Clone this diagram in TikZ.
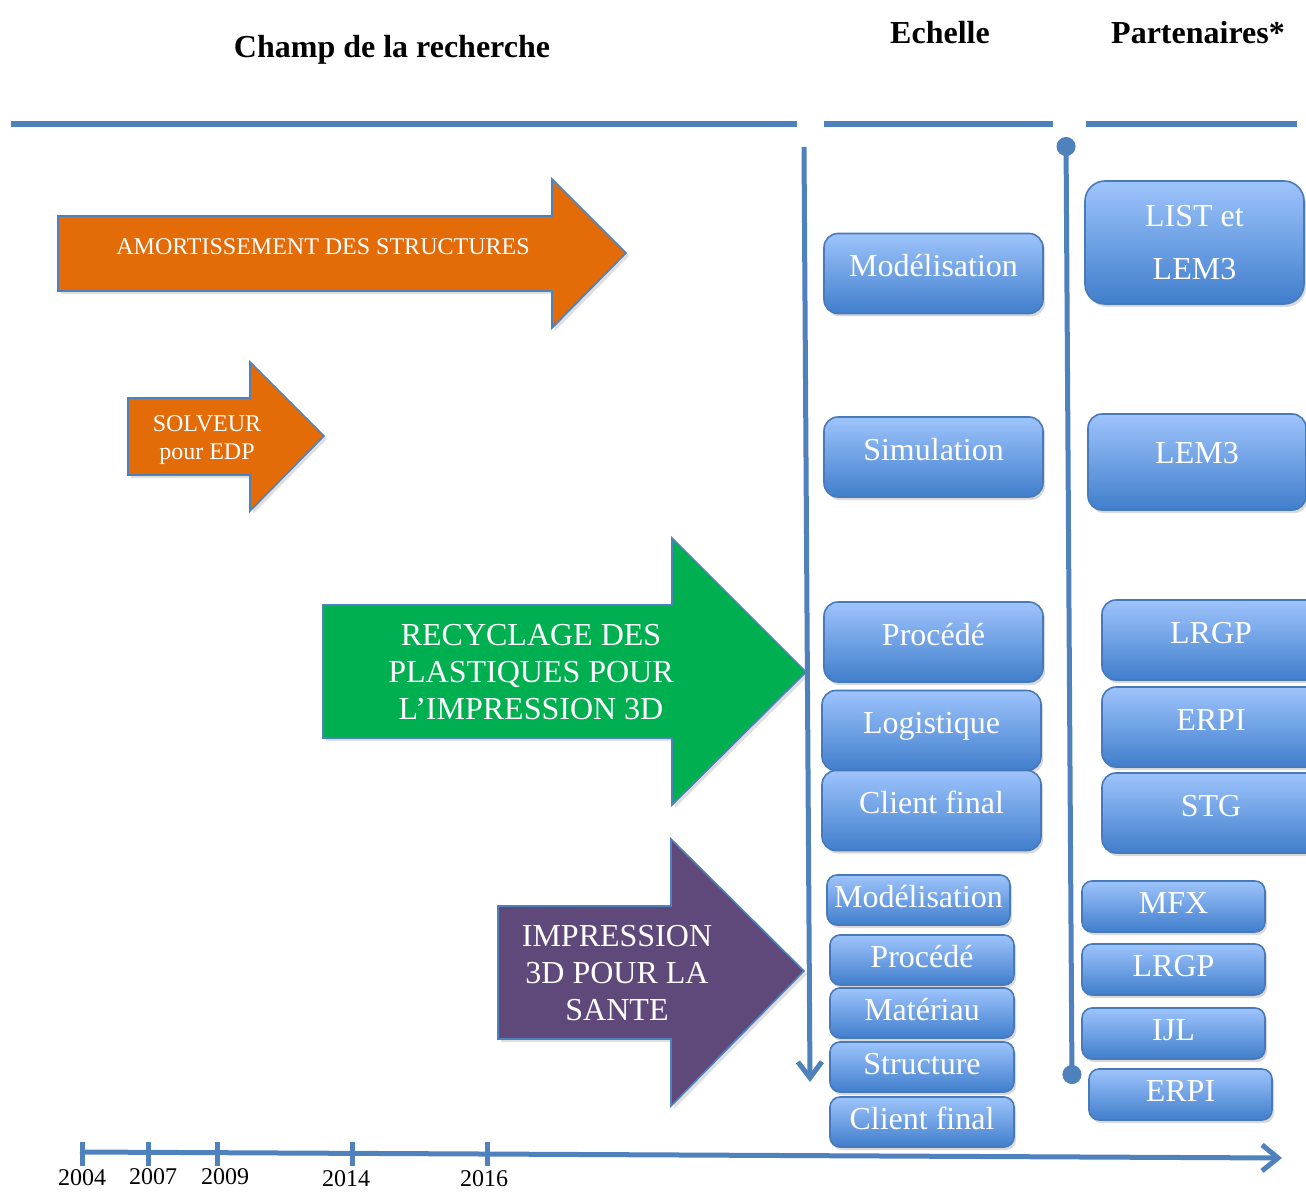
\documentclass[tikz,border=0pt]{standalone}
\usepackage{fontspec}
\setmainfont{Liberation Serif}
\usetikzlibrary{arrows.meta,shadows}

\definecolor{lineblue}{RGB}{79,129,189}
\definecolor{boxtop}{RGB}{158,196,252}
\definecolor{boxbot}{RGB}{64,126,204}
\definecolor{boxline}{RGB}{72,122,186}
\definecolor{arrorange}{RGB}{227,108,9}
\definecolor{arrgreen}{RGB}{0,176,80}
\definecolor{arrpurple}{RGB}{95,73,122}

\begin{document}
\begin{tikzpicture}[x=0.5pt, y=-0.5pt, font=\fontsize{16}{19}\selectfont,
    hline/.style={line width=3pt, lineblue, drop shadow={opacity=0.2, shadow xshift=0pt, shadow yshift=-1.5pt}},
    vline/.style={line width=2.5pt, lineblue},
    bigarrow/.style={draw=lineblue, line width=0.8pt, drop shadow={opacity=0.25, shadow xshift=1.5pt, shadow yshift=-1.5pt}},
    arrtext/.style={text=white, align=center},
    rbox/.style={draw=boxline, line width=0.8pt, rounded corners=7pt, top color=boxtop, bottom color=boxbot,
      text=white, inner sep=0pt, minimum width=109.5pt, minimum height=40pt,
      drop shadow={opacity=0.3, shadow xshift=1pt, shadow yshift=-1.5pt}},
    ebox/.style={rbox, text height=11pt, text depth=8pt},
    sbox/.style={rbox, rounded corners=5pt, minimum width=92pt, minimum height=25pt, text height=11pt, text depth=4pt},
    year/.style={font=\fontsize{12}{14}\selectfont}]
        \useasboundingbox (0,0) rectangle (1306,1192);
        \clip (0,0) rectangle (1306,1192);

        % titres
        \node[font=\fontsize{16}{19}\bfseries] (champ) at (392,50) {Champ de la recherche};
        \node[font=\fontsize{16}{19}\bfseries] (echelle) at (940,33) {Echelle};
        \node[font=\fontsize{16}{19}\bfseries] (partenaires) at (1198,33) {Partenaires*};

        \draw[hline] (11,124) -- (797,124);
        \draw[hline] (824,124) -- (1053,124);
        \draw[hline] (1086,124) -- (1297,124);

        % axes verticaux
        \coordinate (ehaut) at (804,147);
        \coordinate (ebas) at (810,1082);
        \coordinate (phaut) at (1066,137);
        \coordinate (pbas) at (1072,1084);
        \draw[vline, -{Straight Barb[length=8pt,width=12pt]}] (ehaut) -- (ebas);
        \draw[vline, {Circle[length=9.5pt,width=9.5pt]}-{Circle[length=9.5pt,width=9.5pt]}] (phaut) -- (pbas);

        % fleches des themes
        \draw[bigarrow, fill=arrorange] (58,216) -- (552,216) -- (552,179) -- (626,253) -- (552,328) -- (552,291) -- (58,291) -- cycle;
        \node[arrtext, font=\fontsize{12}{14}\selectfont] (amort) at (323,247) {AMORTISSEMENT DES STRUCTURES};

        \draw[bigarrow, fill=arrorange] (128,398) -- (250,398) -- (250,362) -- (324,436) -- (250,511) -- (250,475) -- (128,475) -- cycle;
        \node[arrtext, font=\fontsize{12}{14}\selectfont] (solveur) at (207,440) {SOLVEUR\\pour EDP};

        \draw[bigarrow, fill=arrgreen] (323,605) -- (672,605) -- (672,538) -- (806,672) -- (672,805) -- (672,738) -- (323,738) -- cycle;
        \node[arrtext, font=\fontsize{16}{18.5}\selectfont] (recyclage) at (531,672) {RECYCLAGE DES\\PLASTIQUES POUR\\L’IMPRESSION 3D};

        \draw[bigarrow, fill=arrpurple] (498,906) -- (671,906) -- (671,839) -- (804,971) -- (671,1106) -- (671,1039) -- (498,1039) -- cycle;
        \node[arrtext, font=\fontsize{16}{18.5}\selectfont] (sante) at (617,973) {IMPRESSION\\3D POUR LA\\SANTE};

        % echelle
        \node[ebox] (ech1) at (933.5,273.5) {Modélisation};
        \node[ebox] (ech2) at (933.5,457) {Simulation};
        \node[ebox] (ech3) at (933.5,642) {Procédé};
        \node[ebox] (ech4) at (931.5,730.5) {Logistique};
        \node[ebox] (ech5) at (931.5,810.5) {Client final};
        \node[sbox, minimum width=91.5pt] (ech6) at (918.5,900) {Modélisation};
        \node[sbox] (ech7) at (922,960) {Procédé};
        \node[sbox] (ech8) at (922,1013) {Matériau};
        \node[sbox] (ech9) at (922,1067) {Structure};
        \node[sbox] (ech10) at (922,1122) {Client final};

        % partenaires
        \node[rbox, rounded corners=10pt, minimum height=61.5pt, align=center, font=\fontsize{16}{26.5}\selectfont] (par1) at (1194.5,242.5) {LIST et\\LEM3};
        \node[ebox, minimum width=109pt, minimum height=48pt, text depth=9pt] (par2) at (1197,462) {LEM3};
        \node[ebox, minimum width=109pt] (par3) at (1211,640) {LRGP};
        \node[ebox, minimum width=109pt] (par4) at (1211,727) {ERPI};
        \node[ebox, minimum width=109pt] (par5) at (1211,813) {STG};
        \node[sbox, minimum width=91.5pt, minimum height=25.5pt] (par6) at (1173.5,906.5) {MFX};
        \node[sbox, minimum width=91.5pt, minimum height=25.5pt] (par7) at (1173.5,969.5) {LRGP};
        \node[sbox, minimum width=91.5pt, minimum height=25.5pt] (par8) at (1173.5,1033.5) {IJL};
        \node[sbox, minimum width=91.5pt, minimum height=25.5pt] (par9) at (1180.5,1094.5) {ERPI};

        % frise
        \coordinate (tdebut) at (80,1152);
        \coordinate (tfin) at (1282,1158);
        \draw[vline, -{Straight Barb[length=8pt,width=13pt]}] (tdebut) -- (tfin);
        \foreach \xt in {82,148,217,352,487} {
            \draw[vline] (\xt,1142) -- (\xt,1166);
        }
        \node[year] (y2004) at (82,1178) {2004};
        \node[year] (y2007) at (153,1177) {2007};
        \node[year] (y2009) at (225,1177) {2009};
        \node[year] (y2014) at (346,1179) {2014};
        \node[year] (y2016) at (484,1179) {2016};
\end{tikzpicture}
\end{document}
